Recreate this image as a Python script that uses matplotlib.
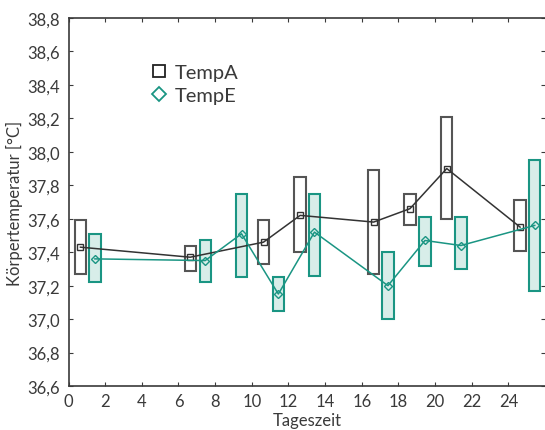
import matplotlib.pyplot as plt
from matplotlib.patches import Rectangle
from matplotlib.lines import Line2D

# Messwerte TempA
a_zeit = [0.65, 6.64, 10.64, 12.64, 16.65, 18.63, 20.64, 24.64]
a_mittel = [37.43, 37.37, 37.46, 37.62, 37.58, 37.66, 37.90, 37.55]
a_oben = [37.59, 37.44, 37.59, 37.85, 37.89, 37.75, 38.21, 37.71]
a_unten = [37.27, 37.29, 37.33, 37.40, 37.27, 37.56, 37.60, 37.41]

# Messwerte TempE
e_zeit = [1.44, 7.46, 9.44, 11.45, 13.42, 17.43, 19.45, 21.41, 25.44]
e_mittel = [37.36, 37.35, 37.51, 37.15, 37.52, 37.20, 37.47, 37.44, 37.56]
e_oben = [37.51, 37.47, 37.75, 37.25, 37.75, 37.40, 37.61, 37.61, 37.95]
e_unten = [37.22, 37.22, 37.25, 37.05, 37.26, 37.00, 37.32, 37.30, 37.17]

plt.rcParams['font.family'] = ['Lato', 'DejaVu Sans']

teal = '#1a9583'
grau = '#3a3a3a'
fig = plt.figure(figsize=(5.45, 4.31), dpi=100)
ax = fig.add_axes([0.1257, 0.102, 0.8743, 0.854])

breite = 0.62
for x, lo, hi in zip(a_zeit, a_unten, a_oben):
    ax.add_patch(Rectangle((x - breite / 2, lo), breite, hi - lo,
                           facecolor='white', edgecolor='#555555', lw=1.5, zorder=2))
for x, lo, hi in zip(e_zeit, e_unten, e_oben):
    ax.add_patch(Rectangle((x - breite / 2, lo), breite, hi - lo,
                           facecolor='#d8ede9', edgecolor=teal, lw=1.5, zorder=2))

ax.plot(a_zeit, a_mittel, color='#333333', lw=1.1, marker='s', ms=5,
        mfc='none', mec='#333333', mew=1.0, zorder=3)
ax.plot(e_zeit, e_mittel, color=teal, lw=1.1, marker='D', ms=4.5,
        mfc='none', mec=teal, mew=1.0, zorder=3)

ax.set_xlim(0, 26)
ax.set_ylim(36.6, 38.8)
ax.set_xticks(range(0, 25, 2))
ax.set_yticks([36.6 + 0.2 * i for i in range(12)])
ax.set_yticklabels([f'{36.6 + 0.2 * i:.1f}'.replace('.', ',') for i in range(12)])
ax.tick_params(direction='in', length=3, width=0.8, top=True, right=True,
               labelsize=12, colors=grau, labelcolor=grau, pad=6)
ax.tick_params(axis='x', pad=5)
for s in ax.spines.values():
    s.set_color(grau)
    s.set_linewidth(1.2)
ax.spines['right'].set_visible(False)

ax.set_xlabel('Tageszeit', fontsize=12, color=grau, labelpad=2)
ax.set_ylabel('Körpertemperatur [°C]', fontsize=12, color=grau, labelpad=3)

handles = [
    Line2D([], [], ls='none', marker='s', ms=8.5, mfc='none', mec='#222222', mew=1.3),
    Line2D([], [], ls='none', marker='D', ms=7.5, mfc='none', mec=teal, mew=1.3),
]
ax.legend(handles, ['TempA', 'TempE'], loc='upper left', bbox_to_anchor=(0.135, 0.925),
          frameon=False, fontsize=14.5, handlelength=0.8, handletextpad=0.4,
          labelspacing=0.3, labelcolor=grau)

fig.savefig('out.png', dpi=100)
